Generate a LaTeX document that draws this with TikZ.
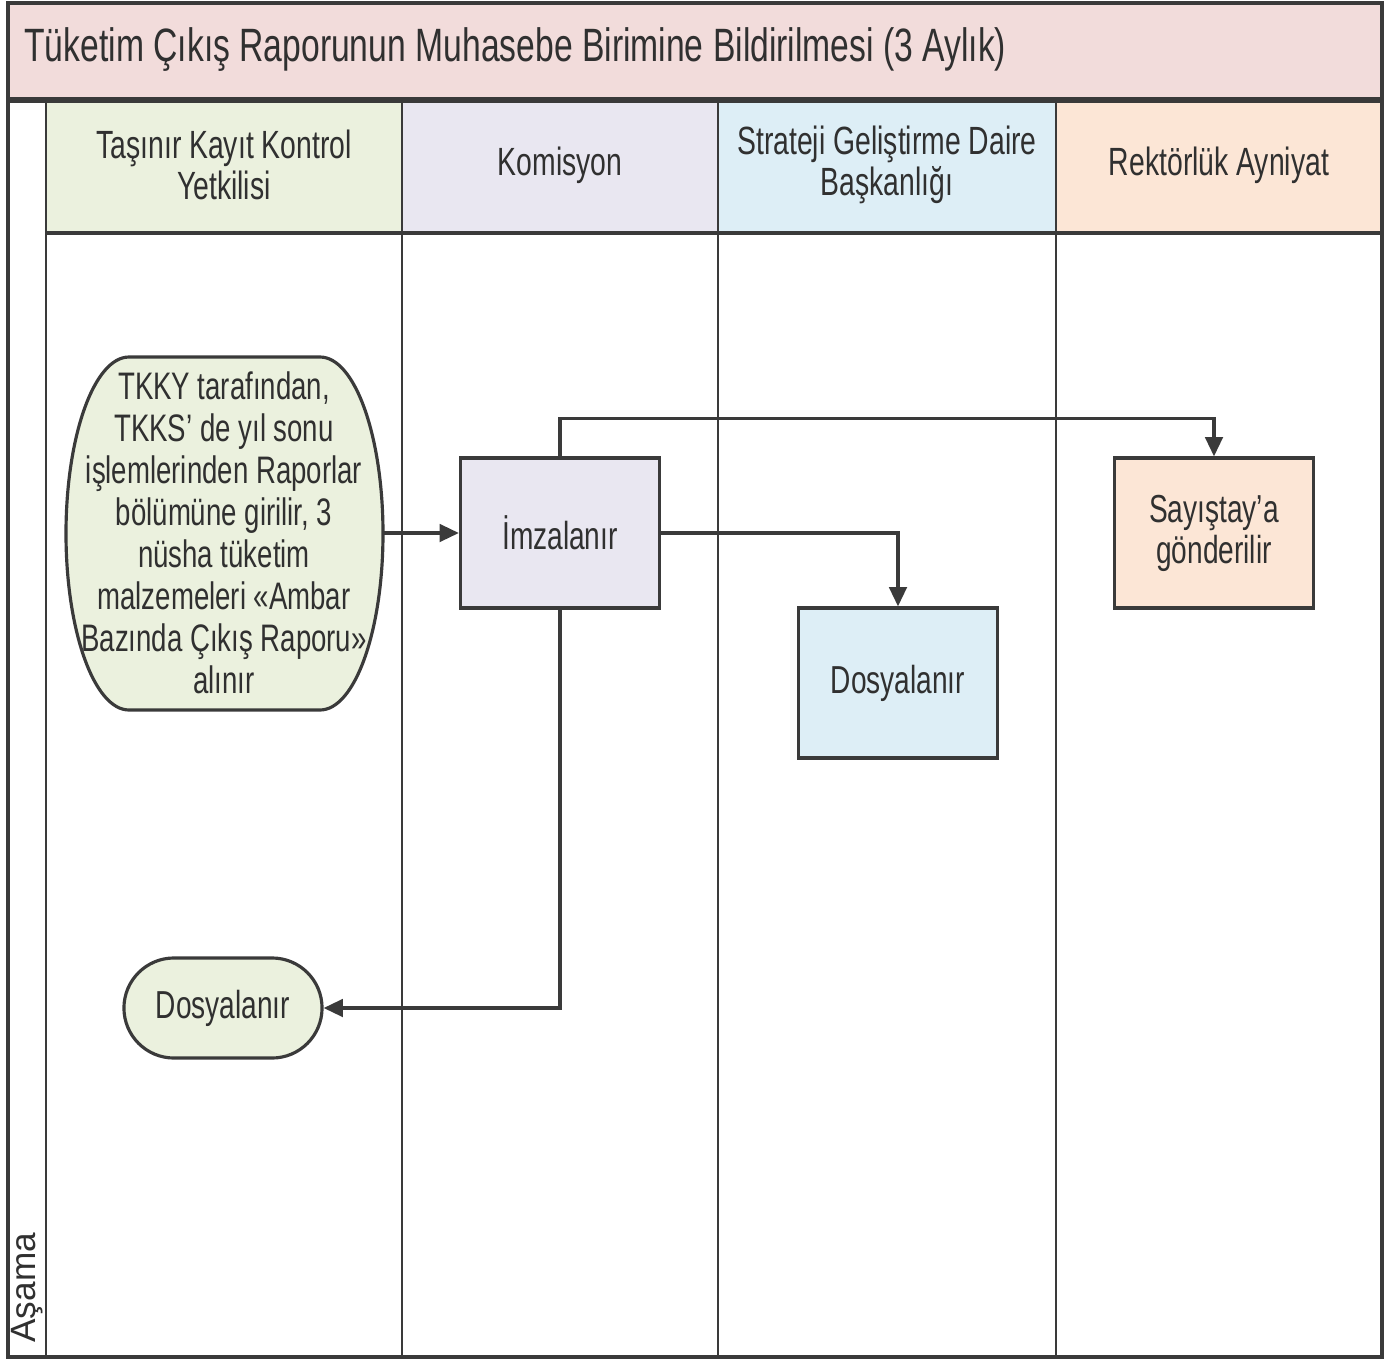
\documentclass[tikz,border=0pt]{standalone}
\usepackage{fontspec}
\setmainfont{Liberation Sans}[FakeStretch=0.72]
\newfontfamily\duzfont{Liberation Sans}
\usepackage{tikz}
\usetikzlibrary{shapes.geometric, arrows.meta}
\usepackage{xcolor}
\definecolor{baslik}{HTML}{F2DCDB}
\definecolor{yesil}{HTML}{EBF1DE}
\definecolor{mor}{HTML}{E9E7F1}
\definecolor{mavi}{HTML}{DDEEF6}
\definecolor{ten}{HTML}{FCE6D6}
\definecolor{cizgi}{HTML}{3A3A3A}
\definecolor{yazi}{HTML}{303030}

\begin{document}
\begin{tikzpicture}[x=0.01cm, y=-0.01cm,
    kutu/.style={draw=cizgi, line width=0.9pt, minimum width=1.99cm, minimum height=1.5cm,
      text=yazi, font=\fontsize{11.1}{11.7}\selectfont, align=center},
    ok/.style={-{Triangle[length=5.5pt,width=5pt]}, line width=0.9pt, draw=cizgi},
    serit/.style={text=yazi, font=\fontsize{11.2}{11.5}\selectfont, align=center}]
    \useasboundingbox (0,0) rectangle (1399,1360);
    % Baslik
    \fill[baslik] (8,3) rectangle (1382,100);
    \node[anchor=west, text=yazi, font=\fontsize{13.3}{16}\selectfont] (baslik) at (12,50)
      {Tüketim Çıkış Raporunun Muhasebe Birimine Bildirilmesi (3 Aylık)};
    % Seritler
    \fill[yesil] (46,100) rectangle (402,233);
    \fill[mor] (402,100) rectangle (718,233);
    \fill[mavi] (718,100) rectangle (1056,233);
    \fill[ten] (1056,100) rectangle (1382,233);
    \node[serit] (tkkyb) at (224,165) {Taşınır Kayıt Kontrol\\Yetkilisi};
    \node[serit] (komb) at (560,165) {Komisyon};
    \node[serit] (sgdb) at (887,165) {Strateji Geliştirme Daire\\Başkanlığı};
    \node[serit] (rekb) at (1219,165) {Rektörlük Ayniyat};
    \draw[cizgi, line width=0.9pt] (8,3) rectangle (1382,1357);
    \draw[cizgi, line width=1.5pt] (8,100) -- (1382,100);
    \draw[cizgi, line width=1.2pt] (46,233) -- (1382,233);
    \foreach \x in {46,402,718,1056}
        \draw[cizgi, line width=0.7pt] (\x,100) -- (\x,1357);
    \node[rotate=90, anchor=west, text=yazi, font=\duzfont\fontsize{10}{12}\selectfont] (asama) at (27,1355) {Aşama};
    % Adimlar
    \draw[cizgi, fill=yesil, line width=0.9pt] (129,357) -- (320,357)
        arc[start angle=-90, end angle=90, x radius=63, y radius=176.5] -- (129,710)
        arc[start angle=90, end angle=270, x radius=63, y radius=176.5] -- cycle;
    \coordinate (tkky) at (383,533);
    \node[text=yazi, font=\fontsize{10.9}{11.95}\selectfont, align=center] (tkkymetin) at (224,533)
      {TKKY tarafından,\\TKKS' de yıl sonu\\işlemlerinden Raporlar\\bölümüne girilir, 3\\nüsha tüketim\\malzemeleri «Ambar\\Bazında Çıkış Raporu»\\alınır};
    \node[kutu, fill=mor] (imza) at (560,533) {İmzalanır};
    \node[kutu, fill=mavi] (dosya) at (898,683) {Dosyalanır};
    \node[kutu, fill=ten] (sayistay) at (1214,533) {Sayıştay’a\\gönderilir};
    \node[kutu, fill=yesil, rounded corners=0.5cm, minimum width=1.98cm, minimum height=1cm] (arsiv) at (223,1008) {Dosyalanır};
    % Oklar
    \draw[ok] (tkky) -- (imza.west);
    \draw[ok] (imza.east) -| (dosya.north);
    \draw[ok] (imza.north) -- ++(0,-38) -| (sayistay.north);
    \draw[ok] (imza.south) |- (arsiv.east);
\end{tikzpicture}
\end{document}
